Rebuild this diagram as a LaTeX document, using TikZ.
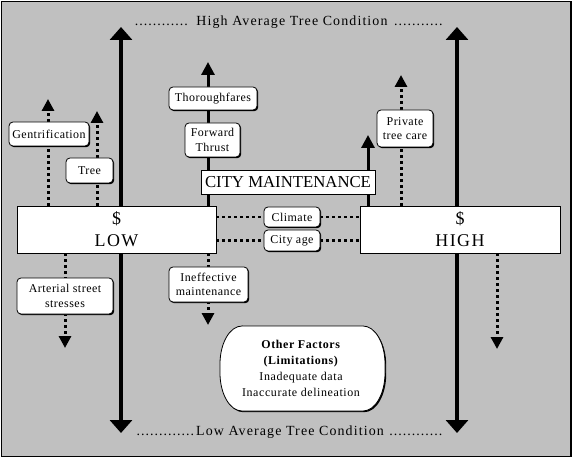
\documentclass[tikz,border=0pt]{standalone}
\usepackage{fontspec}
\setmainfont{Liberation Serif}
\usetikzlibrary{arrows.meta,shadows,backgrounds}
\definecolor{bggray}{RGB}{192,192,192}
\newcommand\dotrow[1]{\hbox to #1{\leaders\hbox to 4.5bp{\hss.\hss}\hfill}}
\begin{document}
\begin{tikzpicture}[x=1bp,y=-1bp,
  shad/.style={drop shadow={shadow xshift=1.2bp,shadow yshift=-1.2bp,fill=black,opacity=1}},
  lbl/.style={draw=black, line width=0.8bp, fill=white, rounded corners=4bp, inner sep=0pt,
    align=center, font=\fontsize{12}{14.5}\selectfont\addfontfeature{LetterSpace=4}, shad},
  bigbox/.style={draw=black, line width=0.8bp, fill=white, inner sep=0pt, align=center,
    font=\fontsize{18}{22}\selectfont\addfontfeature{LetterSpace=8}, shad},
  citybox/.style={draw=black, line width=0.8bp, fill=white, inner sep=0pt,
    font=\fontsize{16.8}{18}\selectfont, shad},
  title/.style={inner sep=0pt, anchor=base, font=\fontsize{14}{16}\selectfont\addfontfeature{LetterSpace=8}},
  bigarr/.style={line width=3.5bp, -{Triangle[width=22bp,length=13bp]}},
  solarr/.style={line width=3bp, -{Triangle[width=13bp,length=13bp]}},
  dotarr/.style={line width=3bp, dash pattern=on 3bp off 3bp, -{Triangle[width=12bp,length=12bp]}},
  dotlink/.style={line width=2.5bp, dash pattern=on 3bp off 3bp},
]
\useasboundingbox (0,0) rectangle (573,458);

% main boxes
\node[bigbox, minimum width=199bp, minimum height=47bp] (low) at (116.5,229.5) {\$\\LOW};
\node[bigbox, minimum width=200bp, minimum height=47bp] (high) at (460,229.5) {\$\\HIGH};
\node[citybox, minimum width=174bp, minimum height=24bp] (city) at (288,182) {CITY MAINTENANCE};

% labels
\node[lbl, minimum width=80bp, minimum height=24bp] (gen) at (49,134) {Gentrification};
\node[lbl, minimum width=47bp, minimum height=25bp] (tree) at (89.5,170.5) {Tree};
\node[lbl, minimum width=88bp, minimum height=23bp] (thor) at (213,98.5) {Thoroughfares};
\node[lbl, minimum width=55bp, minimum height=34bp] (fwd) at (212.5,140) {Forward\\Thrust};
\node[lbl, minimum width=56bp, minimum height=37bp] (priv) at (405,128.5) {Private\\tree care};
\node[lbl, minimum width=56bp, minimum height=20bp] (climate) at (292,217) {Climate};
\node[lbl, minimum width=56bp, minimum height=21bp] (cityage) at (292,240.5) {City age};
\node[lbl, minimum width=96bp, minimum height=36bp] (art) at (65,296) {Arterial street\\stresses};
\node[lbl, minimum width=79bp, minimum height=35bp] (ineff) at (208.5,284.5) {Ineffective\\maintenance};

% other factors shape
\fill[black, shift={(1.2,1.2)}] (242,326) -- (363,326)
  arc[start angle=90,end angle=0,x radius=22bp,y radius=38bp] -- (385,373)
  arc[start angle=0,end angle=-90,x radius=22bp,y radius=38bp] -- (242,411)
  arc[start angle=-90,end angle=-180,x radius=22bp,y radius=38bp] -- (220,364)
  arc[start angle=180,end angle=90,x radius=22bp,y radius=38bp] -- cycle;
\draw[fill=white, line width=0.8bp] (242,326) -- (363,326)
  arc[start angle=90,end angle=0,x radius=22bp,y radius=38bp] -- (385,373)
  arc[start angle=0,end angle=-90,x radius=22bp,y radius=38bp] -- (242,411)
  arc[start angle=-90,end angle=-180,x radius=22bp,y radius=38bp] -- (220,364)
  arc[start angle=180,end angle=90,x radius=22bp,y radius=38bp] -- cycle;
\node[inner sep=0pt, align=center, font=\fontsize{12}{16}\selectfont\addfontfeature{LetterSpace=5}] (other) at (301,368)
  {\textbf{Other Factors}\\\textbf{(Limitations)}\\Inadequate data\\Inaccurate delineation};

% titles
\node[title] (hightxt) at (289,26) {\dotrow{56bp}\hspace{6bp}High Average Tree Condition\hspace{6bp}\dotrow{50bp}};
\node[title] (lowtxt) at (290,435) {\dotrow{60bp}Low Average Tree Condition\hspace{5bp}\dotrow{55bp}};

% tips
\coordinate (lt) at (121,27);
\coordinate (lb) at (121,433);
\coordinate (rt) at (457,27);
\coordinate (rb) at (457,433);
\coordinate (fwdtip) at (208,62);
\coordinate (rsoltip) at (368,135);
\coordinate (privtip) at (401,75);
\coordinate (gentip) at (48,99);
\coordinate (treetip) at (97,111);
\coordinate (arttip) at (65,348);
\coordinate (inefftip) at (208,325);
\coordinate (hdtip) at (497,349);

\begin{scope}[on background layer]
  \draw[fill=bggray, line width=1.2bp] (1.5,1.5) rectangle (571,456.5);
  \draw[bigarr] (low.north -| lt) -- (lt);
  \draw[bigarr] (low.south -| lb) -- (lb);
  \draw[bigarr] (high.north -| rt) -- (rt);
  \draw[bigarr] (high.south -| rb) -- (rb);
  \draw[solarr] (low.north -| fwdtip) -- (fwdtip);
  \draw[solarr] (high.north -| rsoltip) -- (rsoltip);
  \draw[dotarr] (high.north -| privtip) -- (privtip);
  \draw[dotarr] (low.north -| gentip) -- (gentip);
  \draw[dotarr] (low.north -| treetip) -- (treetip);
  \draw[dotarr] (low.south -| arttip) -- (arttip);
  \draw[dotarr] (low.south -| inefftip) -- (inefftip);
  \draw[dotarr] (high.south -| hdtip) -- (hdtip);
  \draw[dotlink] (low.east |- climate.west) -- (climate.west);
  \draw[dotlink] (climate.east) -- (high.west |- climate.east);
  \draw[dotlink] (low.east |- cityage.west) -- (cityage.west);
  \draw[dotlink] (cityage.east) -- (high.west |- cityage.east);
\end{scope}
\end{tikzpicture}
\end{document}
